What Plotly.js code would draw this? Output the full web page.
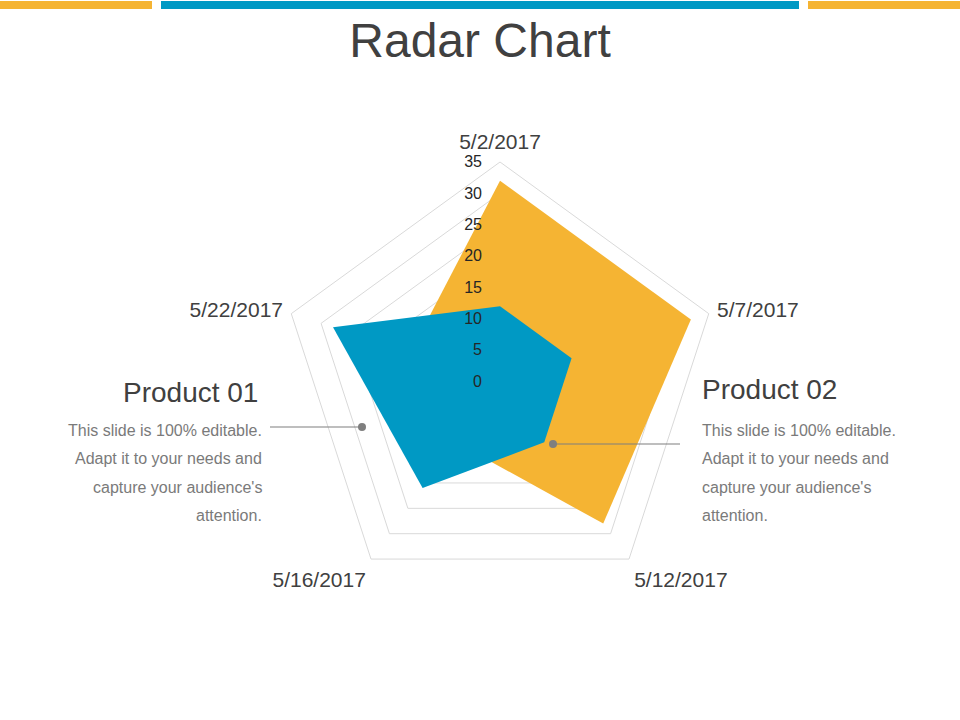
<!DOCTYPE html>
<html>
<head>
<meta charset="utf-8">
<script src="https://cdn.plot.ly/plotly-3.0.1.min.js"></script>
<style>
  html, body { margin: 0; padding: 0; background: #fff; }
  #chart { width: 960px; height: 720px; }
</style>
</head>
<body>
<div id="chart"></div>
<script>
const dates = ["5/2/2017", "5/7/2017", "5/12/2017", "5/16/2017", "5/22/2017"];
const product01 = [12, 12, 12, 21, 28];
const product02 = [32, 32, 28, 12, 15];
const radialTicks = [0, 5, 10, 15, 20, 25, 30, 35];
const seriesNames = ["Product 01", "Product 02"];
const blurb = ["This slide is 100% editable.", "Adapt it to your needs and", "capture your audience's", "attention."];

const BLUE = "#0099c4";
const ORANGE = "#f5b433";
const DARK = "#404040";
const GREY = "#7a7a7a";
const FONT = "Liberation Sans, Arial, sans-serif";

// pixel helpers for paper coords (no margins, so paper == page)
function px(x) { return x / 960; }
function py(y) { return 1 - y / 720; }

function polyTrace(values, color, name) {
    return {
        type: "scatterpolar",
        r: values,
        theta: dates,
        name: name,
        fill: "toself",
        fillcolor: color,
        mode: "lines",
        line: { width: 0, color: color },
        hoverinfo: "skip"
    };
}

let data = [
    polyTrace(product02, ORANGE, seriesNames[1]),
    polyTrace(product01, BLUE, seriesNames[0])
];

let shapes = [
    { type: "rect", xref: "paper", yref: "paper", x0: px(0), x1: px(152), y0: py(9), y1: py(1), fillcolor: ORANGE, line: { width: 0 } },
    { type: "rect", xref: "paper", yref: "paper", x0: px(161), x1: px(799), y0: py(9), y1: py(1), fillcolor: BLUE, line: { width: 0 } },
    { type: "rect", xref: "paper", yref: "paper", x0: px(808), x1: px(960), y0: py(9), y1: py(1), fillcolor: ORANGE, line: { width: 0 } },
    // callout lines
    { type: "line", xref: "paper", yref: "paper", x0: px(270), x1: px(362), y0: py(427), y1: py(427), line: { color: "#7f7f7f", width: 1.2 } },
    { type: "circle", xref: "paper", yref: "paper", x0: px(358), x1: px(366), y0: py(431), y1: py(423), fillcolor: "#7f7f7f", line: { width: 0 } },
    { type: "line", xref: "paper", yref: "paper", x0: px(553), x1: px(680), y0: py(444), y1: py(444), line: { color: "#7f7f7f", width: 1.2 } },
    { type: "circle", xref: "paper", yref: "paper", x0: px(549), x1: px(557), y0: py(448), y1: py(440), fillcolor: "#7f7f7f", line: { width: 0 } }
];

let annotations = [
    { text: seriesNames[0], x: px(260), y: py(393), xanchor: "right", yanchor: "middle", font: { size: 28, color: DARK, family: FONT } },
    { text: seriesNames[1], x: px(700), y: py(389), xanchor: "left", yanchor: "middle", font: { size: 28, color: DARK, family: FONT } }
];
const lineYs = [430, 458, 487, 515];
for (let i = 0; i < blurb.length; i++) {
    annotations.push({ text: blurb[i], x: px(264), y: py(lineYs[i]), xanchor: "right", yanchor: "middle", font: { size: 16, color: GREY, family: FONT } });
    annotations.push({ text: blurb[i], x: px(700), y: py(lineYs[i]), xanchor: "left", yanchor: "middle", font: { size: 16, color: GREY, family: FONT } });
}
for (let a of annotations) {
    a.xref = "paper";
    a.yref = "paper";
    a.showarrow = false;
}

const layout = {
    width: 960,
    height: 720,
    margin: { l: 0, r: 0, t: 0, b: 0 },
    paper_bgcolor: "#fff",
    showlegend: false,
    font: { family: FONT, color: DARK },
    title: { text: "Radar Chart", x: 0.5, xanchor: "center", y: py(40), yanchor: "middle", font: { size: 48, color: DARK, family: FONT } },
    polar: {
        domain: { x: [0.2922, 0.7495], y: [0.1653, 0.7750] },
        bgcolor: "rgba(0,0,0,0)",
        gridshape: "linear",
        angularaxis: {
            rotation: 90,
            direction: "clockwise",
            showgrid: false,
            showline: true,
            linecolor: "#d9d9d9",
            linewidth: 1,
            ticks: "outside",
            ticklen: 4,
            tickcolor: "rgba(0,0,0,0)",
            tickfont: { size: 21, color: DARK, family: FONT }
        },
        radialaxis: {
            range: [0, 35],
            tickvals: radialTicks,
            angle: 90,
            side: "counterclockwise",
            tickangle: 90,
            showline: false,
            ticks: "outside",
            ticklen: 12,
            tickcolor: "rgba(0,0,0,0)",
            gridcolor: "#d9d9d9",
            gridwidth: 1,
            tickfont: { size: 16, color: "#262626", family: FONT }
        }
    },
    shapes: shapes,
    annotations: annotations
};

Plotly.newPlot("chart", data, layout, { displayModeBar: false, staticPlot: true });
</script>
</body>
</html>
